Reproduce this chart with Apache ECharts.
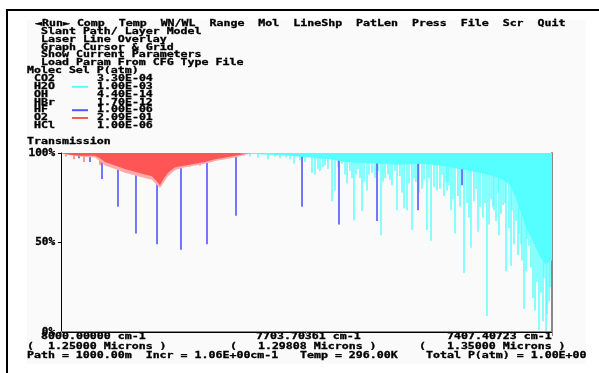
<!DOCTYPE html>
<html>
<head>
<meta charset="utf-8">
<script src="https://cdn.jsdelivr.net/npm/echarts@6/dist/echarts.min.js"></script>
<style>
html, body { margin: 0; padding: 0; background: #fff; }
#chart { width: 599px; height: 373px; }
</style>
</head>
<body>
<div id="chart"></div>
<script>
// x range in wavenumber (cm-1), left = 8000, right = 7407.4
const wnMin = 7407.40723;
const wnMax = 8000;
const yTicks = [0, 50, 100];

const menuLine = '◄Run► Comp  Temp  WN/WL  Range  Mol  LineShp  PatLen  Press  File  Scr  Quit';
const menuItems = ['Slant Path/ Layer Model', 'Laser Line Overlay', 'Graph Cursor & Grid',
    'Show Current Parameters', 'Load Param From CFG Type File'];

const molecules = ['CO2', 'H2O', 'OH', 'HBr', 'HF', 'O2', 'HCl'];
const pressures = ['3.30E-04', '1.00E-03', '4.40E-14', '1.70E-12', '1.00E-06', '2.09E-01', '1.00E-06'];
const molColors = [null, '#55ffff', null, null, '#5555ff', '#ff5555', null];

// [wavenumber, transmission %]
const hfLines = [
    [7978.3, 97], [7965.0, 95], [7950.5, 85.5], [7931.2, 70], [7909.5, 55], [7884.1, 49],
    [7855.2, 46], [7823.8, 49], [7788.8, 65], [7709.1, 70], [7664.5, 60], [7618.6, 62],
    [7569.1, 68], [7516.0, 82], [7460.5, 90]
];

const o2Band = [
    [7998.8, 99.8], [7989.1, 99], [7977.1, 98.5], [7959.0, 98.5], [7952.9, 97], [7946.9, 95],
    [7934.8, 93], [7922.8, 91], [7910.7, 89.5], [7898.6, 88], [7890.2, 87], [7884.1, 84],
    [7880.5, 82], [7876.9, 85], [7870.9, 89], [7862.4, 92], [7850.3, 93], [7838.3, 94],
    [7826.2, 95], [7814.1, 96.5], [7802.1, 97.5], [7790.0, 98.5], [7777.9, 99.5], [7765.9, 99.8]
];
const o2BandLight = [
    [7998.8, 99.5], [7977.1, 98], [7959.0, 97.5], [7952.9, 95.5], [7946.9, 93], [7934.8, 91],
    [7922.8, 89], [7910.7, 87.5], [7898.6, 86], [7890.2, 85], [7884.1, 82], [7880.5, 80.5],
    [7876.9, 83], [7870.9, 87], [7862.4, 90.5], [7850.3, 92], [7838.3, 93], [7826.2, 94],
    [7814.1, 95.5], [7802.1, 96.5], [7790.0, 97.5], [7777.9, 99], [7765.9, 99.8]
];
const o2Lines = [
    [7994.0, 98], [7984.3, 96.5], [7972.2, 95], [7952.9, 93.5], [7919.1, 89.5], [7903.4, 87],
    [7893.8, 86], [7881.7, 81.5], [7873.3, 86], [7866.0, 89.5], [7844.3, 92.5], [7832.2, 93],
    [7817.8, 95], [7805.7, 96.5]
];

const h2oBand = [
    [7784.0, 99.8], [7759.8, 99.3], [7723.6, 98.5], [7699.5, 97.5], [7675.3, 96.5], [7657.2, 95],
    [7639.1, 94.5], [7615.0, 94], [7590.9, 93.5], [7566.7, 94], [7542.6, 93], [7518.4, 91],
    [7494.3, 89], [7470.2, 86], [7458.1, 82], [7452.1, 76], [7446.0, 68], [7440.0, 60],
    [7434.0, 54], [7427.9, 48], [7421.9, 42], [7415.9, 38], [7407.4, 40]
];
const h2oLines = [
    [7779.1, 98.5], [7771.9, 98], [7762.2, 97.5], [7757.4, 99], [7750.2, 96.5], [7741.7, 98],
    [7735.7, 97], [7728.4, 97.5], [7723.6, 96.5], [7718.8, 94], [7711.6, 96], [7705.5, 95],
    [7697.1, 89], [7693.4, 88], [7689.8, 91], [7687.4, 90], [7683.8, 92], [7681.4, 93],
    [7677.8, 91], [7672.9, 73], [7669.3, 79], [7665.7, 92], [7660.9, 94], [7657.2, 88],
    [7654.8, 83], [7651.2, 90], [7648.8, 86], [7646.4, 62.5], [7644.0, 88], [7641.5, 91],
    [7639.1, 86], [7636.7, 67.6], [7634.3, 84], [7630.7, 79], [7628.3, 88], [7624.7, 89],
    [7621.0, 86], [7617.4, 90], [7613.8, 54], [7611.4, 84], [7609.0, 86], [7605.3, 88],
    [7602.9, 85], [7600.5, 82], [7596.9, 90], [7594.5, 68], [7590.9, 87], [7588.4, 78],
    [7586.0, 69], [7582.4, 68], [7580.0, 83], [7576.4, 57], [7574.0, 86], [7571.6, 84],
    [7567.9, 78], [7564.3, 80], [7561.9, 85], [7558.3, 57], [7555.9, 86], [7553.4, 51],
    [7549.8, 81], [7546.2, 79], [7542.6, 80], [7540.2, 88], [7537.8, 76], [7535.3, 84],
    [7534.1, 79], [7532.9, 84], [7531.7, 82], [7529.3, 68], [7526.9, 74], [7524.5, 55],
    [7520.9, 76], [7518.4, 70], [7513.6, 33], [7510.0, 72], [7507.6, 64], [7505.2, 47],
    [7501.6, 73], [7499.1, 80], [7496.7, 56], [7494.3, 70], [7490.7, 64], [7488.3, 72],
    [7485.9, 9], [7483.4, 60], [7481.0, 74], [7478.6, 70], [7477.4, 68], [7475.0, 62],
    [7472.6, 78], [7471.4, 54], [7469.0, 66], [7466.5, 71], [7464.1, 72], [7462.9, 34],
    [7459.3, 58], [7456.9, 37], [7455.7, 68], [7453.3, 49], [7450.9, 62], [7448.4, 43],
    [7447.2, 55], [7444.8, 49], [7443.6, 40], [7441.2, 13], [7438.8, 34], [7437.6, 52],
    [7435.2, 48], [7432.8, 36], [7430.3, 19], [7427.9, 12], [7425.5, 28], [7423.1, 1],
    [7420.7, 22], [7418.3, 6], [7417.1, 30], [7414.6, 0.5], [7413.4, 10], [7411.0, 17],
    [7409.8, 25], [7408.6, 49]
];

const FONT = 'bold 11.6px "DejaVu Sans Mono"';
function txt(x, y, s) {
    return { type: 'text', x: x, y: y, scaleY: 0.74, silent: true,
        style: { text: s, font: FONT, fill: '#000', stroke: '#000', lineWidth: 0.4, verticalAlign: 'middle' } };
}

function sticks(data, color, w) {
    return {
        type: 'custom', data: data, silent: true, encode: { x: 0, y: 1 },
        renderItem: function (params, api) {
            const a = api.coord([api.value(0), 100]);
            const b = api.coord([api.value(0), api.value(1)]);
            return { type: 'rect', shape: { x: a[0] - w / 2, y: a[1], width: w, height: b[1] - a[1] },
                style: { fill: color } };
        }
    };
}

function band(data, color) {
    return { type: 'line', data: data, symbol: 'none', silent: true,
        lineStyle: { width: 0 }, areaStyle: { color: color, opacity: 1, origin: 'end' } };
}

const graphics = [
    { type: 'rect', shape: { x: 27, y: 20, width: 559, height: 344 }, style: { fill: '#fafafa' }, z: -10 },
    { type: 'rect', shape: { x: 6, y: 9, width: 593, height: 2 }, style: { fill: '#000' } },
    { type: 'rect', shape: { x: 6, y: 9, width: 2, height: 364 }, style: { fill: '#000' } },
    txt(35, 24, menuLine),
    txt(27, 71, 'Molec Sel P(atm)'),
    txt(27, 142, 'Transmission'),
    txt(41, 337, '8000.00000 cm-1'),
    txt(256, 337, '7703.70361 cm-1'),
    txt(447, 337, '7407.40723 cm-1'),
    txt(27, 346.5, '(  1.25000 Microns )'),
    txt(230, 346.5, '(   1.29808 Microns )'),
    txt(419, 346.5, '(   1.35000 Microns )'),
    txt(27, 356, 'Path = 1000.00m  Incr = 1.06E+00cm-1'),
    txt(300, 356, 'Temp = 296.00K'),
    txt(426, 356, 'Total P(atm) = 1.00E+00')
];
menuItems.forEach(function (s, i) { graphics.push(txt(41, 32 + i * 7.75, s)); });
molecules.forEach(function (m, i) {
    const y = 79 + i * 7.8;
    graphics.push(txt(34, y, m));
    graphics.push(txt(97, y, pressures[i]));
    if (molColors[i]) {
        graphics.push({ type: 'rect', shape: { x: 72, y: y - 1, width: 16, height: 2 }, style: { fill: molColors[i] } });
    }
});

const chart = echarts.init(document.getElementById('chart'));
chart.setOption({
    animation: false,
    backgroundColor: '#fff',
    grid: { left: 61, right: 47, top: 153, bottom: 41, outerBoundsMode: 'none' },
    xAxis: [
        { type: 'value', min: wnMin, max: wnMax, inverse: true, interval: (wnMax - wnMin) / 2,
          position: 'bottom',
          axisLine: { lineStyle: { color: '#888', width: 2 } },
          axisTick: { show: true, length: 4, lineStyle: { color: '#888' } },
          axisLabel: { show: false }, splitLine: { show: false } },
        { type: 'value', min: wnMin, max: wnMax, inverse: true, position: 'top',
          axisLine: { show: true, lineStyle: { color: '#000', width: 1 } },
          axisTick: { show: false }, axisLabel: { show: false }, splitLine: { show: false } }
    ],
    yAxis: [
        { type: 'value', min: yTicks[0], max: yTicks[2], interval: yTicks[1] - yTicks[0],
          axisLine: { show: true, lineStyle: { color: '#000', width: 1 } },
          axisTick: { show: true, length: 3, lineStyle: { color: '#000' } },
          axisLabel: { formatter: '{value}%', margin: 6, color: '#000',
              fontFamily: 'DejaVu Sans Mono', fontWeight: 'bold', fontSize: 11,
              textBorderColor: '#000', textBorderWidth: 0.4 },
          splitLine: { show: false } },
        { type: 'value', min: 0, max: 100, position: 'right',
          axisLine: { show: true, lineStyle: { color: '#888', width: 2 } },
          axisTick: { show: false }, axisLabel: { show: false }, splitLine: { show: false } }
    ],
    graphic: graphics,
    series: [
        band(o2BandLight, '#ffaaaa'),
        band(o2Band, '#ff5555'),
        sticks(o2Lines, '#ff5555', 1.2),
        band(h2oBand, '#55ffff'),
        sticks(h2oLines, '#55ffff', 1.4),
        sticks(hfLines, '#5555ff', 1.6)
    ]
});
</script>
</body>
</html>
